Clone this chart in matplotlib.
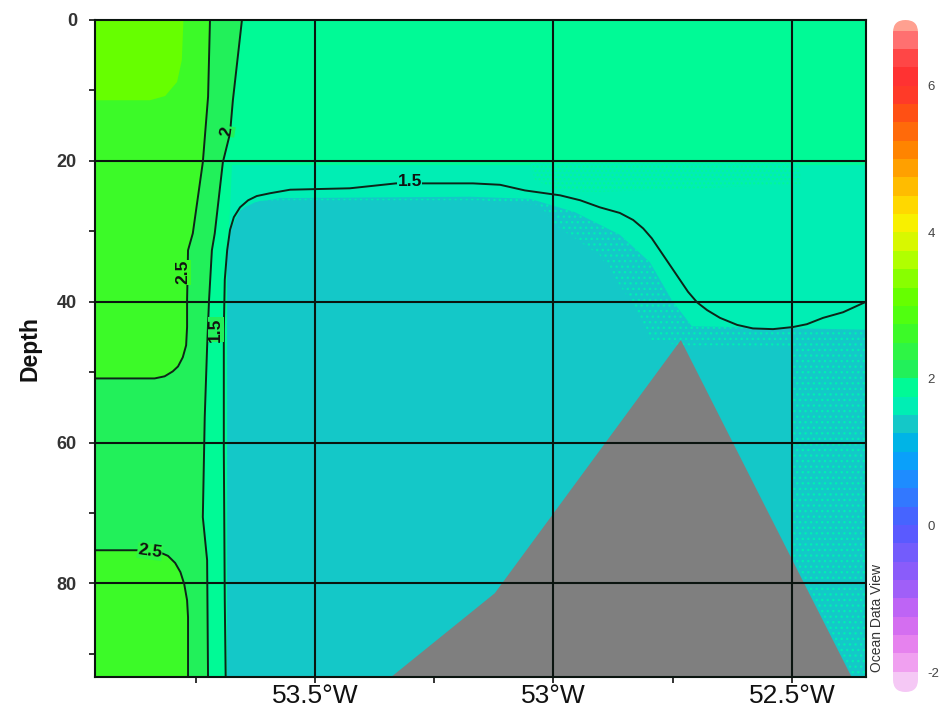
import numpy as np
import matplotlib
matplotlib.use("Agg")
import matplotlib.pyplot as plt
from matplotlib.colors import ListedColormap, BoundaryNorm
from matplotlib.patches import Polygon, FancyBboxPatch
from matplotlib.ticker import FixedLocator, FuncFormatter

plt.rcParams['font.family'] = ['Liberation Sans', 'DejaVu Sans']
plt.rcParams['hatch.linewidth'] = 1.0

# ---- temperature colour scale (0.25 degC bands) ----
band_edges = np.linspace(-2.25, 7.0, 38)
band_colors = [
    '#f5c8f5', '#f0a0f0', '#e682ee', '#d46ef0', '#be64f5', '#a05ff8',
    '#8a5cfa', '#735cfc', '#5a5aff', '#4664ff', '#3278ff', '#1e8cff',
    '#0aa0fa', '#00b4e6', '#14c8c8', '#00eeb4', '#00fa96', '#22f05a',
    '#2ef545', '#3cfa28', '#50ff10', '#66ff00', '#88ff00', '#b0ff00',
    '#d8f800', '#f8f000', '#ffd800', '#ffbc00', '#ffa000', '#ff8400',
    '#ff6a0a', '#ff5014', '#ff3a28', '#ff3232', '#ff4646', '#ff7070',
    '#ffa090',
]
cmap = ListedColormap(band_colors)
norm = BoundaryNorm(band_edges, cmap.N)
cbar_range = (-2.27, 6.89)
cbar_ticks = [-2, 0, 2, 4, 6]

# ---- section extent ----
lon_lim = (-53.961, -52.345)
depth_max = 93.3
lon_ticks = [-53.5, -53.0, -52.5]
lon_minor = [-53.75, -53.25, -52.75]
depth_ticks = [0, 20, 40, 60, 80]
depth_minor = [10, 30, 50, 70, 90]

# ---- isotherms (lon degE, depth m) ----
iso25_upper_lon = [-53.720, -53.724, -53.735, -53.756, -53.766, -53.768,
                   -53.768, -53.770, -53.777, -53.787, -53.798, -53.815,
                   -53.836, -53.970]
iso25_upper_depth = [0.0, 10.9, 20.2, 30.3, 32.7, 39.8, 43.6, 46.2, 47.9,
                     49.2, 49.9, 50.6, 50.9, 50.9]
iso25_lower_lon = [-53.970, -53.881, -53.846, -53.825, -53.808, -53.793,
                   -53.782, -53.774, -53.768, -53.766, -53.766]
iso25_lower_depth = [75.3, 75.3, 75.3, 75.6, 76.1, 77.1, 78.4, 80.1, 82.4,
                     84.8, 94.0]
iso20_lon = [-53.653, -53.672, -53.678, -53.693, -53.710, -53.716, -53.722,
             -53.726, -53.731, -53.735, -53.726, -53.724]
iso20_depth = [0.0, 11.4, 16.1, 20.2, 30.3, 32.7, 39.8, 46.4, 56.4, 70.6,
               76.7, 94.0]
iso15_lon = [-53.687, -53.689, -53.691, -53.691, -53.689, -53.684, -53.678,
             -53.670, -53.657, -53.640, -53.622, -53.594, -53.552, -53.490,
             -53.427, -53.330, -53.169, -53.112, -53.060, -52.986, -52.944,
             -52.903, -52.861, -52.833, -52.812, -52.794, -52.777, -52.756,
             -52.735, -52.718, -52.699, -52.678, -52.651, -52.615, -52.582,
             -52.540, -52.498, -52.469, -52.435, -52.393, -52.351, -52.337]
iso15_depth = [94.0, 82.4, 61.1, 44.0, 36.9, 32.7, 29.8, 28.0, 26.6, 25.6,
               25.0, 24.6, 24.1, 24.0, 23.9, 23.2, 23.2, 23.4, 24.2, 24.9,
               25.6, 26.6, 27.4, 28.4, 29.6, 31.0, 32.7, 34.8, 36.9, 38.6,
               40.1, 41.2, 42.3, 43.3, 43.8, 43.9, 43.6, 43.2, 42.3, 41.5,
               40.2, 39.8]

# ---- shaded temperature patches (outline lon, outline depth, temp) ----
warm_core_lon = [-53.970, -53.775, -53.779, -53.789, -53.814, -53.846, -53.970]
warm_core_depth = [-1.0, -1.0, 5.7, 8.8, 10.8, 11.4, 11.4]
warm_core_temp = 3.1

west_temp = 2.6          # west of the upper/lower 2.5 isotherms
mid_temp = 2.2           # between 2.5 and 2.0 isotherms
surface_temp = 1.85      # upper layer east of the 2.0 isotherm

interm_lon = [-53.674, -52.330, -52.330, -53.684, -53.684, -53.678]
interm_depth = [20.6, 20.6, 94.0, 94.0, 32.7, 27.0]
interm_temp = 1.6

warm_tongue_lon = [-53.049, -52.483, -52.483, -52.693, -52.903, -52.986, -53.039]
warm_tongue_depth = [20.3, 20.3, 23.3, 23.9, 24.4, 24.3, 22.7]
warm_tongue_temp = 1.85

cold_edge_lon = [-53.684, -53.684, -53.674, -53.657, -53.626, -53.573, -53.175,
                 -53.049, -52.955, -52.861, -52.798, -52.752, -52.710, -52.330,
                 -52.330]
cold_edge_depth = [94.0, 32.7, 29.5, 27.1, 25.9, 25.3, 25.1, 25.4, 27.3, 30.5,
                   34.4, 39.8, 43.5, 44.0, 94.0]

cold_core_lon = [-53.684, -53.684, -53.676, -53.665, -53.648, -53.615, -53.573,
                 -53.154, -53.028, -52.997, -52.903, -52.840, -52.798, -52.735,
                 -52.504, -52.504]
cold_core_depth = [94.0, 32.7, 30.0, 28.1, 26.6, 25.7, 25.6, 25.6, 26.3, 29.1,
                   33.4, 39.8, 45.5, 46.2, 46.3, 94.0]
cold_temp = 1.35

# ---- bathymetry ----
bottom_lon = [-53.353, -53.123, -52.733, -52.370]
bottom_depth = [94.0, 81.4, 45.45, 94.0]

# ---- isotherm labels: text, lon, depth, rotation ----
label_text = ['2', '2.5', '1.5', '1.5', '2.5']
label_lon = [-53.684, -53.777, -53.708, -53.301, -53.846]
label_depth = [15.8, 35.8, 44.0, 23.0, 75.5]
label_rot = [81, 90, 90, 0, -8]
label_bg = [2.2, 2.6, 2.2, 1.6, 2.4]


fig = plt.figure(figsize=(9.44, 7.13), dpi=100)
ax = fig.add_axes([95 / 944, 36 / 713, 771 / 944, 657 / 713])
ax.set_xlim(*lon_lim)
ax.set_ylim(depth_max, 0)

x0, x1 = -54.05, -52.30
ax.add_patch(Polygon([[x0, -1], [x1, -1], [x1, 95], [x0, 95]],
                     closed=True, fc=cmap(norm(surface_temp)), lw=0, zorder=1))
# 2.0 - 2.5 band west of the 2.0 isotherm
pts = list(zip(iso20_lon, iso20_depth)) + [(x0, 95), (x0, -1), (iso20_lon[0], -1)]
ax.add_patch(Polygon(pts, closed=True, fc=cmap(norm(mid_temp)), lw=0, zorder=1.1))
# > 2.5 water near the western edge
pts = [(iso25_upper_lon[0], -1)] + list(zip(iso25_upper_lon, iso25_upper_depth)) + [(x0, -1)]
ax.add_patch(Polygon(pts, closed=True, fc=cmap(norm(west_temp)), lw=0, zorder=1.2))
pts = list(zip(iso25_lower_lon, iso25_lower_depth)) + [(x0, 95)]
ax.add_patch(Polygon(pts, closed=True, fc=cmap(norm(west_temp)), lw=0, zorder=1.2))
ax.add_patch(Polygon(list(zip(warm_core_lon, warm_core_depth)), closed=True,
                     fc=cmap(norm(warm_core_temp)), lw=0, zorder=1.3))
# intermediate layer and cold interior
ax.add_patch(Polygon(list(zip(interm_lon, interm_depth)), closed=True,
                     fc=cmap(norm(interm_temp)), lw=0, zorder=1.4))
ax.add_patch(Polygon(list(zip(warm_tongue_lon, warm_tongue_depth)), closed=True,
                     fc=cmap(norm(interm_temp)), ec=cmap(norm(warm_tongue_temp)),
                     hatch='....', lw=0, zorder=1.5))
ax.add_patch(Polygon(list(zip(cold_edge_lon, cold_edge_depth)), closed=True,
                     fc=cmap(norm(cold_temp)), ec=cmap(norm(interm_temp)),
                     hatch='...', lw=0, zorder=1.6))
ax.add_patch(Polygon(list(zip(cold_core_lon, cold_core_depth)), closed=True,
                     fc=cmap(norm(cold_temp)), lw=0, zorder=1.7))
# sea floor
ax.add_patch(Polygon(list(zip(bottom_lon, bottom_depth)), closed=True,
                     fc='#7f7f7f', lw=0, zorder=2))

# grid
for v in lon_ticks:
    ax.axvline(v, color='#0a140f', lw=1.5, zorder=3)
for v in depth_ticks[1:]:
    ax.axhline(v, color='#0a140f', lw=1.5, zorder=3)

# isotherms
line_kw = dict(color='#0d2418', lw=1.4, zorder=4, solid_joinstyle='round')
ax.plot(iso25_upper_lon, iso25_upper_depth, **line_kw)
ax.plot(iso25_lower_lon, iso25_lower_depth, **line_kw)
ax.plot(iso20_lon, iso20_depth, **line_kw)
ax.plot(iso15_lon, iso15_depth, **line_kw)
for t, lo, de, r, bg in zip(label_text, label_lon, label_depth, label_rot, label_bg):
    ax.text(lo, de, t, rotation=r, ha='center', va='center', fontsize=12.5,
            fontweight='bold', color='#111111', zorder=5,
            rotation_mode='anchor',
            bbox=dict(boxstyle='square,pad=0.02', fc=cmap(norm(bg)), ec='none'))

# axes styling
for s in ax.spines.values():
    s.set_color('#0a140f')
    s.set_linewidth(1.5)
    s.set_zorder(6)
ax.xaxis.set_major_locator(FixedLocator(lon_ticks))
ax.xaxis.set_minor_locator(FixedLocator(lon_minor))
ax.yaxis.set_major_locator(FixedLocator(depth_ticks))
ax.yaxis.set_minor_locator(FixedLocator(depth_minor))
ax.xaxis.set_major_formatter(FuncFormatter(lambda v, p: f"{abs(v):g}\u00b0W"))
ax.tick_params(axis='x', which='both', direction='out', length=4, width=1.3,
               labelsize=19, pad=1, color='#222222', labelcolor='#111111')
ax.tick_params(axis='y', which='both', direction='out', length=4, width=1.3,
               labelsize=13, pad=9, color='#222222', labelcolor='#333333')
for lab in ax.get_yticklabels():
    lab.set_fontweight('bold')
ax.set_ylabel('Depth', fontsize=16.5, fontweight='bold', color='#111111')
ax.yaxis.set_label_coords(-0.069, 0.5)

# colour bar with rounded ends
cax = fig.add_axes([893 / 944, 21 / 713, 25 / 944, 672 / 713])
vals = np.linspace(cbar_range[0], cbar_range[1], 600)
im = cax.imshow(vals[:, None], extent=[0, 1, cbar_range[0], cbar_range[1]],
                origin='lower', aspect='auto', cmap=cmap, norm=norm,
                interpolation='nearest')
cax.set_xlim(0, 1)
cax.set_ylim(*cbar_range)
clip = FancyBboxPatch((0, 0), 1, 1, boxstyle='round,pad=0,rounding_size=0.5',
                      mutation_aspect=(12.5 / 672) / 0.5,
                      transform=cax.transAxes, fc='none', ec='none')
cax.add_patch(clip)
im.set_clip_path(clip)
for s in cax.spines.values():
    s.set_visible(False)
cax.set_xticks([])
cax.yaxis.tick_right()
cax.set_yticks(cbar_ticks)
cax.set_yticklabels([str(t) for t in cbar_ticks])
cax.tick_params(axis='y', length=0, labelsize=9.5, pad=7, labelcolor='#444444')

fig.text(877 / 944, 41 / 713, 'Ocean Data View', rotation=90, ha='center',
         va='bottom', fontsize=10, color='#333333')

fig.savefig('out.png', dpi=100)
